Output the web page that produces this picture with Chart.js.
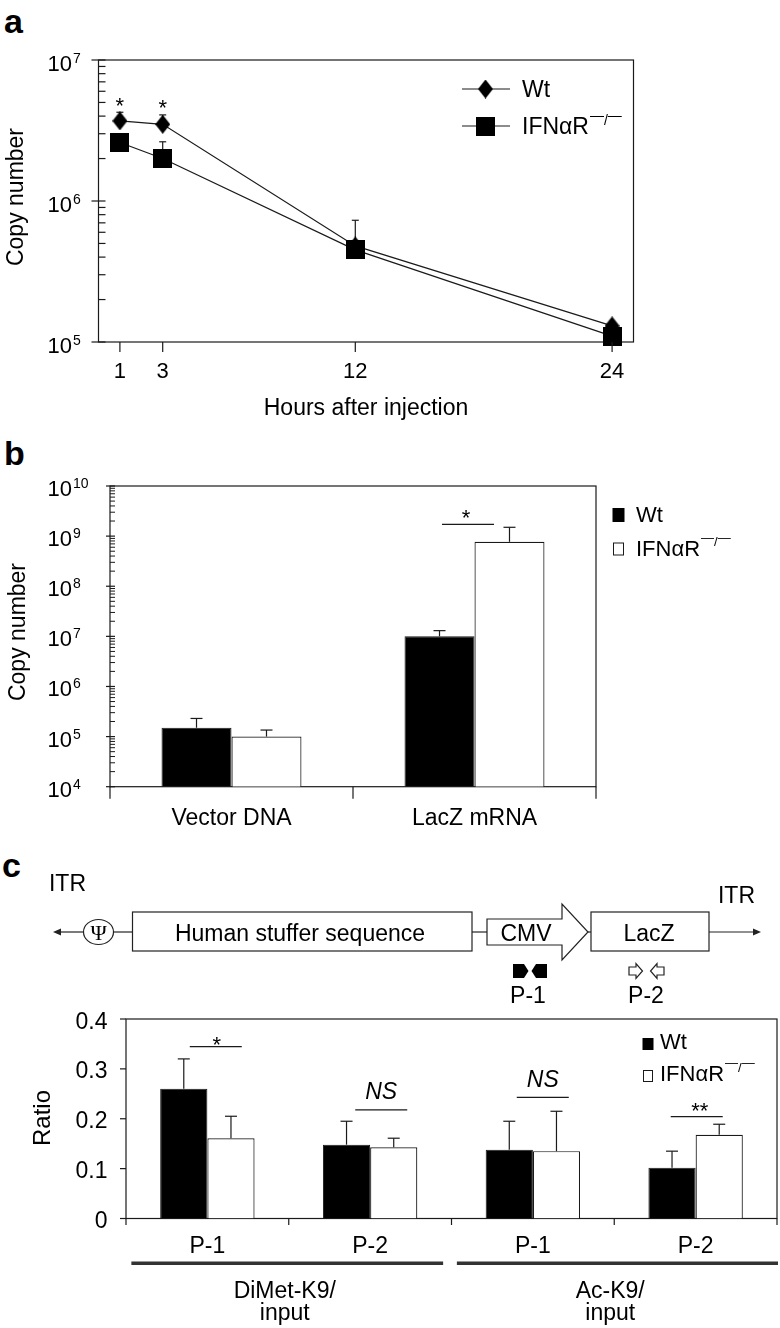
<!DOCTYPE html>
<html>
<head>
<meta charset="utf-8">
<script src="https://cdn.jsdelivr.net/npm/chart.js@4.4.1/dist/chart.umd.min.js"></script>
<style>
html,body{margin:0;padding:0;background:#fff;}
body{width:780px;height:1328px;position:relative;overflow:hidden;font-family:"Liberation Sans",Arial,Helvetica,sans-serif;}
canvas{position:absolute;left:0;top:0;}
.pl{position:absolute;font-weight:bold;font-size:34px;line-height:1;color:#000;}
svg{position:absolute;left:0;top:0;}
</style>
</head>
<body>
<div class="pl" style="left:4px;top:4px;">a</div>
<div class="pl" style="left:4px;top:436px;">b</div>
<div class="pl" style="left:2px;top:848px;">c</div>
<canvas id="ca" width="780" height="1328"></canvas>
<canvas id="cb" width="780" height="1328"></canvas>
<canvas id="cc" width="780" height="1328"></canvas>
<svg width="780" height="1328" font-family="Liberation Sans, Arial, Helvetica, sans-serif" font-size="23">
  <text x="67.5" y="890.5" text-anchor="middle">ITR</text>
  <text x="736.5" y="902.5" text-anchor="middle">ITR</text>
  <g stroke="#222" stroke-width="1.2" fill="none">
    <line x1="58" y1="932" x2="83.5" y2="932"/>
    <line x1="113.5" y1="932" x2="132.5" y2="932"/>
    <line x1="472" y1="932" x2="487" y2="932"/>
    <line x1="588" y1="932" x2="591" y2="932"/>
    <line x1="709" y1="932" x2="755" y2="932"/>
    <ellipse cx="98.5" cy="932" rx="15" ry="12.5" fill="#fff"/>
    <rect x="132.5" y="912" width="339.5" height="39" fill="#fff"/>
    <polygon points="487,919 562,919 562,904 588,932 562,960 562,945 487,945" fill="#fff"/>
    <rect x="591" y="912" width="118" height="39" fill="#fff"/>
    <polygon points="629,967 636,967 636,963.5 642.5,971 636,978.5 636,975 629,975" fill="#fff"/>
    <polygon points="664,967 657,967 657,963.5 650.5,971 657,978.5 657,975 664,975" fill="#fff"/>
  </g>
  <polygon points="53,932 61,928.5 61,935.5" fill="#222"/>
  <polygon points="761,932 753,928.5 753,935.5" fill="#222"/>
  <polygon points="513,964 524,964 528.5,971 524,978 513,978" fill="#000"/>
  <polygon points="547,964 536,964 531.5,971 536,978 547,978" fill="#000"/>
  <text x="98.5" y="940" font-size="22" text-anchor="middle" font-family="Liberation Serif, DejaVu Serif, serif">Ψ</text>
  <text x="300" y="940.5" text-anchor="middle">Human stuffer sequence</text>
  <text x="526" y="940.5" text-anchor="middle">CMV</text>
  <text x="649" y="940.5" text-anchor="middle">LacZ</text>
  <text x="528" y="1003" text-anchor="middle">P-1</text>
  <text x="646" y="1003" text-anchor="middle">P-2</text>
</svg>
<script>
// ---------------- DATA ----------------
const seriesNames = ['Wt', 'IFNαR−/−'];

// Panel a: copy number vs hours after injection
const hours = [1, 3, 12, 24];
const wtCopies = [3.7e6, 3.5e6, 4.8e5, 1.3e5];
const wtCopiesErr = [4.26e6, 4.08e6, 7.3e5, null];
const koCopies = [2.6e6, 2.0e6, 4.5e5, 1.1e5];
const koCopiesErr = [null, 2.63e6, null, null];
const aSig = ['*', '*', '', ''];

// Panel b: copy number by target
const bCategories = ['Vector DNA', 'LacZ mRNA'];
const bWt = [1.5e5, 1.0e7];
const bWtErr = [2.3e5, 1.3e7];
const bKo = [1.0e5, 7.7e8];
const bKoErr = [1.35e5, 1.5e9];
const bSig = ['', '*'];

// Panel c: ChIP ratio
const cCategories = ['P-1', 'P-2', 'P-1', 'P-2'];
const cGroups = [['DiMet-K9/', 'input'], ['Ac-K9/', 'input']];
const cWt = [0.26, 0.148, 0.138, 0.102];
const cWtErr = [0.32, 0.195, 0.195, 0.135];
const cKo = [0.161, 0.143, 0.135, 0.168];
const cKoErr = [0.205, 0.161, 0.215, 0.189];
const cSig = ['*', 'NS', 'NS', '**'];
const cTicks = [0, 0.1, 0.2, 0.3, 0.4];

// ---------------- HELPERS ----------------
const INK = '#1a1a1a';
const FF = '"Liberation Sans", Arial, Helvetica, sans-serif';
function setFont(ctx, size, style) { ctx.font = (style || '') + ' ' + size + 'px ' + FF; }
function text(ctx, s, x, y, size, align, style) {
  setFont(ctx, size, style); ctx.fillStyle = '#000';
  ctx.textAlign = align || 'center'; ctx.textBaseline = 'alphabetic';
  ctx.fillText(s, x, y);
}
function line(ctx, x1, y1, x2, y2, w) {
  ctx.beginPath(); ctx.moveTo(x1, y1); ctx.lineTo(x2, y2);
  ctx.lineWidth = w || 1.2; ctx.strokeStyle = INK; ctx.stroke();
}
function pow10Label(ctx, exp, xr, base) {
  text(ctx, '10', xr, base, 22, 'right');
  text(ctx, String(exp), xr + 1, base - 8, 14, 'left');
}
function seriesLabel(ctx, name, x, base, size) {
  const k = name.indexOf('−');
  if (k < 0) { text(ctx, name, x, base, size, 'left'); return; }
  const main = name.slice(0, k);
  text(ctx, main, x, base, size, 'left');
  setFont(ctx, size); const w = ctx.measureText(main).width;
  const s = Math.round(size * 0.6);
  const sb = base - size * 0.42;
  setFont(ctx, s); ctx.textAlign = 'left';
  const dw = ctx.measureText('—').width, sw = ctx.measureText('/').width;
  let cx = x + w + 1;
  ctx.fillText('—', cx, sb - s * 0.36); cx += dw;
  ctx.fillText('/', cx, sb); cx += sw;
  ctx.fillText('—', cx, sb - s * 0.36);
}
function frame(ctx, a) {
  ctx.lineWidth = 1.2; ctx.strokeStyle = INK;
  ctx.strokeRect(a.left, a.top, a.right - a.left, a.bottom - a.top);
}
function barErrors(chart, cap) {
  const ctx = chart.ctx, y = chart.scales.y;
  chart.data.datasets.forEach((ds, i) => {
    const meta = chart.getDatasetMeta(i);
    ds.err.forEach((e, j) => {
      if (e == null) return;
      const p = meta.data[j]; const ye = y.getPixelForValue(e);
      line(ctx, p.x, p.y, p.x, ye, 1.2);
      line(ctx, p.x - cap / 2, ye, p.x + cap / 2, ye, 1.2);
    });
  });
}
function makeDiamond(w, h) {
  const c = document.createElement('canvas'); c.width = w; c.height = h;
  const g = c.getContext('2d'); g.fillStyle = '#000';
  g.beginPath(); g.moveTo(w / 2, 0); g.lineTo(w, h / 2); g.lineTo(w / 2, h); g.lineTo(0, h / 2); g.closePath(); g.fill();
  return c;
}
function makeSquare(w, h) {
  const c = document.createElement('canvas'); c.width = w; c.height = h;
  const g = c.getContext('2d'); g.fillStyle = '#000'; g.fillRect(0, 0, w, h);
  return c;
}
const diamondImg = makeDiamond(15, 19);
const squareImg = makeSquare(19, 19);

const baseOpts = {
  responsive: false, animation: false, events: [],
  plugins: { legend: { display: false }, tooltip: { enabled: false } }
};

// ---------------- PANEL A ----------------
const panelA = {
  id: 'panelA',
  beforeDatasetsDraw(chart) {
    const { ctx, chartArea: a, scales: { y } } = chart;
    ctx.save();
    frame(ctx, a);
    for (let e = 5; e <= 7; e++) {
      const py = y.getPixelForValue(Math.pow(10, e));
      line(ctx, a.left - 7, py, a.left + 7, py, 1.2);
      if (e < 7) for (let m = 2; m <= 9; m++) {
        const pm = y.getPixelForValue(m * Math.pow(10, e));
        line(ctx, a.left, pm, a.left + 7, pm, 1.2);
      }
    }
    chart.data.datasets.forEach((ds, i) => {
      const meta = chart.getDatasetMeta(i);
      ds.err.forEach((e, j) => {
        if (e == null) return;
        const p = meta.data[j]; const ye = y.getPixelForValue(e);
        line(ctx, p.x, p.y, p.x, ye, 1.2);
        line(ctx, p.x - 3.5, ye, p.x + 3.5, ye, 1.2);
      });
    });
    ctx.restore();
  },
  afterDraw(chart) {
    const { ctx, chartArea: a, scales: { x, y } } = chart;
    ctx.save();
    for (let e = 5; e <= 7; e++) pow10Label(ctx, e, 72, y.getPixelForValue(Math.pow(10, e)) + 11);
    hours.forEach(h => {
      const px = x.getPixelForValue(h);
      line(ctx, px, a.bottom, px, a.bottom + 10, 1.2);
      text(ctx, String(h), px, 378, 22);
    });
    text(ctx, 'Hours after injection', (a.left + a.right) / 2, 415, 23);
    ctx.save(); ctx.translate(23, 197); ctx.rotate(-Math.PI / 2);
    text(ctx, 'Copy number', 0, 0, 23); ctx.restore();
    // significance stars above Wt error bars
    const wtMeta = chart.getDatasetMeta(0);
    aSig.forEach((s, j) => {
      if (!s) return;
      const p = wtMeta.data[j];
      text(ctx, s, p.x, y.getPixelForValue(wtCopiesErr[j]) + 0.5, 22);
    });
    // legend
    const ly = [89, 126];
    chart.data.datasets.forEach((ds, i) => {
      line(ctx, 462, ly[i], 510, ly[i], 1.2);
      const img = ds.pointStyle;
      ctx.drawImage(img, 485.5 - img.width / 2, ly[i] - img.height / 2);
      seriesLabel(ctx, ds.label, 522, ly[i] + 8.2, 23);
    });
    ctx.restore();
  }
};

new Chart(document.getElementById('ca'), {
  type: 'line',
  data: {
    datasets: [
      { label: seriesNames[0], data: hours.map((h, i) => ({ x: h, y: wtCopies[i] })), err: wtCopiesErr,
        borderColor: INK, borderWidth: 1.2, pointStyle: diamondImg, order: 2, clip: false },
      { label: seriesNames[1], data: hours.map((h, i) => ({ x: h, y: koCopies[i] })), err: koCopiesErr,
        borderColor: INK, borderWidth: 1.2, pointStyle: squareImg, order: 1, clip: false }
    ]
  },
  options: Object.assign({}, baseOpts, {
    layout: { padding: { left: 98.5, right: 146.5, top: 60, bottom: 986 } },
    elements: { line: { tension: 0, fill: false } },
    scales: {
      x: { type: 'linear', min: 0, max: 25, display: false },
      y: { type: 'logarithmic', min: 1e5, max: 1e7, display: false }
    }
  }),
  plugins: [panelA]
});

// ---------------- PANEL B ----------------
const panelB = {
  id: 'panelB',
  beforeDatasetsDraw(chart) {
    const { ctx, chartArea: a, scales: { x, y } } = chart;
    ctx.save();
    frame(ctx, a);
    for (let e = 4; e <= 10; e++) {
      const py = y.getPixelForValue(Math.pow(10, e));
      line(ctx, a.left - 4, py, a.left + 5, py, 1.2);
      if (e < 10) for (let m = 2; m <= 9; m++) {
        const pm = y.getPixelForValue(m * Math.pow(10, e));
        line(ctx, a.left, pm, a.left + 5, pm, 1);
      }
    }
    const bounds = [a.left, (x.getPixelForValue(0) + x.getPixelForValue(1)) / 2, a.right];
    bounds.forEach(bx => line(ctx, bx, a.bottom, bx, a.bottom + 12, 1.2));
    ctx.restore();
  },
  afterDatasetsDraw(chart) {
    chart.ctx.save(); barErrors(chart, 12); chart.ctx.restore();
  },
  afterDraw(chart) {
    const { ctx, chartArea: a, scales: { x, y } } = chart;
    ctx.save();
    for (let e = 4; e <= 10; e++) pow10Label(ctx, e, 72, y.getPixelForValue(Math.pow(10, e)) + 10);
    bCategories.forEach((c, i) => text(ctx, c, x.getPixelForValue(i), 825, 23));
    ctx.save(); ctx.translate(25, 632); ctx.rotate(-Math.PI / 2);
    text(ctx, 'Copy number', 0, 0, 23); ctx.restore();
    bSig.forEach((s, i) => {
      if (!s) return;
      const cx = x.getPixelForValue(i) - 6.5;
      const ly = y.getPixelForValue(Math.max(bWtErr[i], bKoErr[i])) - 3;
      line(ctx, cx - 26, ly, cx + 26, ly, 1.2);
      text(ctx, s, cx - 2, ly + 1, 22);
    });
    // legend
    const ly = [515, 549];
    chart.data.datasets.forEach((ds, i) => {
      ctx.fillStyle = ds.backgroundColor; ctx.strokeStyle = INK; ctx.lineWidth = 1;
      if (i === 0) ctx.fillRect(612.5, ly[i] - 7, 12, 14);
      else { ctx.fillRect(613.5, ly[i] - 6, 10, 12); ctx.strokeRect(613.5, ly[i] - 6, 10, 12); }
      seriesLabel(ctx, ds.label, 636, ly[i] + 6.5, 22);
    });
    ctx.restore();
  }
};

new Chart(document.getElementById('cb'), {
  type: 'bar',
  data: {
    labels: bCategories,
    datasets: [
      { label: seriesNames[0], data: bWt, err: bWtErr, backgroundColor: '#000', borderColor: INK, borderWidth: 1 },
      { label: seriesNames[1], data: bKo, err: bKoErr, backgroundColor: '#fff', borderColor: INK, borderWidth: 1.2 }
    ]
  },
  options: Object.assign({}, baseOpts, {
    layout: { padding: { left: 110, right: 184, top: 486, bottom: 541.3 } },
    datasets: { bar: { categoryPercentage: 0.576, barPercentage: 1 } },
    scales: {
      x: { type: 'category', display: false, offset: true },
      y: { type: 'logarithmic', min: 1e4, max: 1e10, display: false }
    }
  }),
  plugins: [panelB]
});

// ---------------- PANEL C ----------------
const cSigGeom = [{ dx: 8.4, dy: -12.3 }, { dx: 11.1, dy: -11.4 }, { dx: 9.9, dy: -13.9 }, { dx: 1.1, dy: -7.7 }];
const panelC = {
  id: 'panelC',
  beforeDatasetsDraw(chart) {
    const { ctx, chartArea: a, scales: { x, y } } = chart;
    ctx.save();
    frame(ctx, a);
    cTicks.forEach(t => { const py = y.getPixelForValue(t); line(ctx, a.left - 6, py, a.left, py, 1.2); });
    const bounds = [a.left];
    for (let i = 1; i < cCategories.length; i++) bounds.push((x.getPixelForValue(i - 1) + x.getPixelForValue(i)) / 2);
    bounds.push(a.right);
    bounds.forEach(bx => line(ctx, bx, a.bottom, bx, a.bottom + 6.5, 1.2));
    ctx.restore();
  },
  afterDatasetsDraw(chart) {
    chart.ctx.save(); barErrors(chart, 12); chart.ctx.restore();
  },
  afterDraw(chart) {
    const { ctx, chartArea: a, scales: { x, y } } = chart;
    ctx.save();
    cTicks.forEach(t => text(ctx, t === 0 ? '0' : t.toFixed(1), 107.5, y.getPixelForValue(t) + 9.5, 23, 'right'));
    cCategories.forEach((c, i) => text(ctx, c, x.getPixelForValue(i), 1253, 23));
    // group bars and labels
    cGroups.forEach((g, k) => {
      const x1 = x.getPixelForValue(2 * k) - 76, x2 = k === 0 ? x.getPixelForValue(2 * k + 1) + 73 : a.right + 1;
      ctx.fillStyle = '#333'; ctx.fillRect(x1, 1261.5, x2 - x1, 3.5);
      const cx = (x.getPixelForValue(2 * k) + x.getPixelForValue(2 * k + 1)) / 2 - 4;
      text(ctx, g[0], cx, 1298, 23);
      text(ctx, g[1], cx, 1320, 23);
    });
    ctx.save(); ctx.translate(50, 1118); ctx.rotate(-Math.PI / 2);
    text(ctx, 'Ratio', 0, 0, 24); ctx.restore();
    // significance
    cSig.forEach((s, i) => {
      const g = cSigGeom[i];
      const cx = x.getPixelForValue(i) + g.dx;
      const ly = y.getPixelForValue(Math.max(cWtErr[i], cKoErr[i])) + g.dy;
      line(ctx, cx - 26, ly, cx + 26, ly, 1.2);
      if (s === 'NS') text(ctx, s, cx, ly - 10.5, 23, 'center', 'italic');
      else if (s === '*') text(ctx, s, cx + 1, ly + 5.5, 22);
      else text(ctx, s, cx + 3, ly + 1, 22);
    });
    // legend
    const ly = [1044, 1076];
    chart.data.datasets.forEach((ds, i) => {
      ctx.fillStyle = ds.backgroundColor; ctx.strokeStyle = INK; ctx.lineWidth = 1;
      if (i === 0) ctx.fillRect(642.5, ly[i] - 6, 11, 12);
      else { ctx.fillRect(643.5, ly[i] - 5.5, 9, 11); ctx.strokeRect(643.5, ly[i] - 5.5, 9, 11); }
      seriesLabel(ctx, ds.label, 660, ly[i] + 5, 22);
    });
    ctx.restore();
  }
};

new Chart(document.getElementById('cc'), {
  type: 'bar',
  data: {
    labels: cCategories,
    datasets: [
      { label: seriesNames[0], data: cWt, err: cWtErr, backgroundColor: '#000', borderColor: INK, borderWidth: 1 },
      { label: seriesNames[1], data: cKo, err: cKoErr, backgroundColor: '#fff', borderColor: INK, borderWidth: 1.2 }
    ]
  },
  options: Object.assign({}, baseOpts, {
    layout: { padding: { left: 126, right: 3, top: 1019, bottom: 109.5 } },
    datasets: { bar: { categoryPercentage: 0.58, barPercentage: 1 } },
    scales: {
      x: { type: 'category', display: false, offset: true },
      y: { type: 'linear', min: 0, max: 0.4, display: false }
    }
  }),
  plugins: [panelC]
});
</script>
</body>
</html>
